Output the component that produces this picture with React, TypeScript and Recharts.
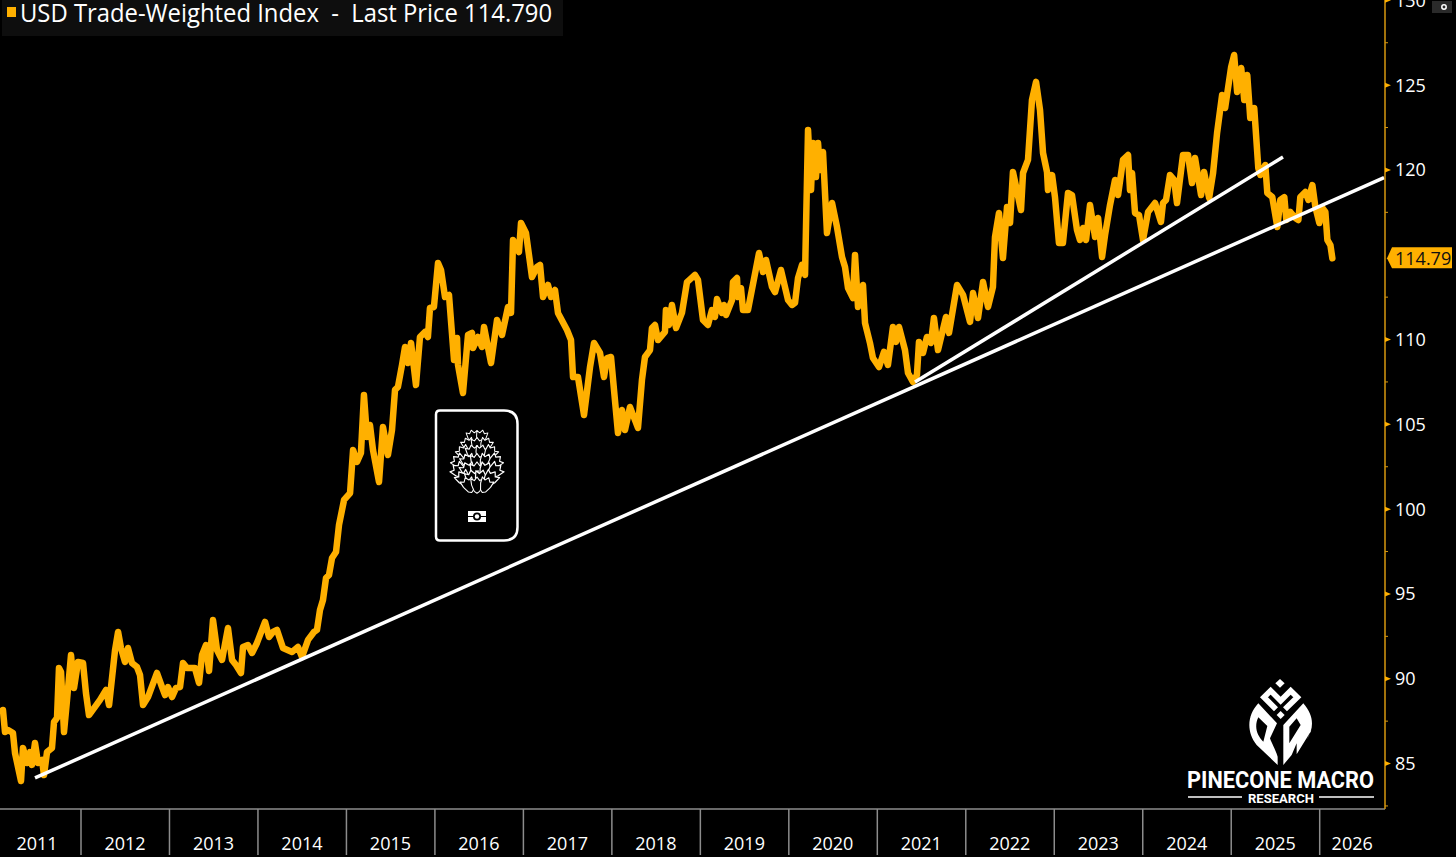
import { LineChart, Line, XAxis, YAxis, ReferenceLine } from 'recharts'

const ORANGE = '#ffb000'

// decimal years
const dates = [
  2011.118, 2011.141, 2011.175, 2011.231, 2011.254, 2011.288, 2011.322, 2011.344, 2011.390, 2011.424,
  2011.446, 2011.480, 2011.514, 2011.559, 2011.582, 2011.616, 2011.672, 2011.695, 2011.729, 2011.751,
  2011.774, 2011.808, 2011.842, 2011.887, 2011.921, 2011.966, 2012.023, 2012.056, 2012.090, 2012.158,
  2012.215, 2012.283, 2012.317, 2012.385, 2012.419, 2012.452, 2012.497, 2012.531, 2012.576, 2012.633,
  2012.667, 2012.701, 2012.757, 2012.859, 2012.916, 2012.950, 2012.983, 2013.029, 2013.074, 2013.119,
  2013.153, 2013.198, 2013.288, 2013.334, 2013.368, 2013.413, 2013.447, 2013.492, 2013.537, 2013.594,
  2013.661, 2013.707, 2013.752, 2013.808, 2013.831, 2013.887, 2013.933, 2013.989, 2014.080, 2014.125,
  2014.170, 2014.215, 2014.283, 2014.385, 2014.452, 2014.498, 2014.566, 2014.633, 2014.667, 2014.701,
  2014.735, 2014.769, 2014.803, 2014.837, 2014.882, 2014.916, 2014.973, 2015.041, 2015.075, 2015.119,
  2015.164, 2015.198, 2015.232, 2015.266, 2015.300, 2015.368, 2015.413, 2015.469, 2015.515, 2015.549,
  2015.582, 2015.628, 2015.662, 2015.696, 2015.730, 2015.786, 2015.831, 2015.887, 2015.921, 2015.944,
  2015.989, 2016.035, 2016.069, 2016.114, 2016.159, 2016.216, 2016.250, 2016.261, 2016.317, 2016.374,
  2016.419, 2016.430, 2016.487, 2016.532, 2016.555, 2016.634, 2016.702, 2016.758, 2016.826, 2016.860,
  2016.883, 2016.950, 2016.973, 2017.029, 2017.097, 2017.154, 2017.188, 2017.222, 2017.278, 2017.312,
  2017.357, 2017.391, 2017.493, 2017.538, 2017.561, 2017.617, 2017.685, 2017.753, 2017.798, 2017.866,
  2017.911, 2017.945, 2017.990, 2018.069, 2018.114, 2018.148, 2018.205, 2018.295, 2018.340, 2018.374,
  2018.431, 2018.453, 2018.487, 2018.521, 2018.600, 2018.611, 2018.645, 2018.679, 2018.725, 2018.792,
  2018.849, 2018.939, 2018.973, 2019.030, 2019.086, 2019.131, 2019.165, 2019.188, 2019.244, 2019.267,
  2019.290, 2019.358, 2019.369, 2019.414, 2019.425, 2019.459, 2019.482, 2019.538, 2019.663, 2019.708,
  2019.742, 2019.810, 2019.844, 2019.911, 2019.991, 2020.036, 2020.070, 2020.104, 2020.149, 2020.183,
  2020.217, 2020.251, 2020.273, 2020.307, 2020.330, 2020.352, 2020.386, 2020.431, 2020.488, 2020.544,
  2020.601, 2020.635, 2020.669, 2020.725, 2020.748, 2020.782, 2020.838, 2020.861, 2020.917, 2020.951,
  2021.019, 2021.075, 2021.120, 2021.177, 2021.211, 2021.245, 2021.313, 2021.347, 2021.403, 2021.448,
  2021.471, 2021.516, 2021.561, 2021.606, 2021.640, 2021.686, 2021.776, 2021.810, 2021.901, 2021.969,
  2022.048, 2022.082, 2022.138, 2022.195, 2022.251, 2022.307, 2022.330, 2022.375, 2022.420, 2022.466,
  2022.500, 2022.533, 2022.624, 2022.647, 2022.703, 2022.748, 2022.794, 2022.839, 2022.873, 2022.918,
  2022.929, 2022.975, 2023.008, 2023.053, 2023.098, 2023.155, 2023.200, 2023.257, 2023.291, 2023.325,
  2023.359, 2023.404, 2023.461, 2023.495, 2023.540, 2023.574, 2023.630, 2023.687, 2023.721, 2023.777,
  2023.834, 2023.856, 2023.879, 2023.913, 2023.958, 2024.003, 2024.060, 2024.139, 2024.206, 2024.229,
  2024.263, 2024.308, 2024.354, 2024.387, 2024.455, 2024.512, 2024.557, 2024.591, 2024.659, 2024.693,
  2024.750, 2024.795, 2024.840, 2024.897, 2024.931, 2024.999, 2025.033, 2025.067, 2025.113, 2025.147,
  2025.181, 2025.215, 2025.260, 2025.306, 2025.329, 2025.385, 2025.408, 2025.464, 2025.521, 2025.555,
  2025.600, 2025.623, 2025.668, 2025.725, 2025.759, 2025.781, 2025.838, 2025.872, 2025.917, 2025.951,
  2025.996, 2026.030, 2026.064, 2026.087, 2026.121, 2026.143,
]

const prices = [
  88.16, 86.86, 86.98, 86.80, 85.62, 84.80, 83.97, 85.92, 85.03, 85.68,
  84.92, 86.21, 85.03, 85.21, 84.32, 85.68, 85.92, 87.45, 87.69, 90.63,
  90.40, 86.86, 88.75, 91.40, 89.46, 90.99, 90.93, 89.16, 87.86, 88.34,
  88.75, 89.34, 88.45, 91.70, 92.76, 91.81, 90.99, 91.81, 90.93, 90.69,
  90.22, 88.45, 88.92, 90.34, 89.51, 89.04, 89.51, 88.92, 89.46, 89.51,
  90.93, 90.63, 90.63, 89.75, 91.40, 91.99, 90.46, 93.46, 91.70, 91.11,
  92.99, 91.11, 90.81, 90.34, 91.87, 91.99, 91.52, 92.11, 93.35, 92.46,
  92.76, 92.88, 91.81, 91.58, 91.87, 91.28, 92.29, 92.76, 92.88, 94.05,
  94.64, 95.94, 96.12, 97.12, 97.47, 99.07, 100.54, 100.95, 103.49, 102.78,
  103.31, 106.73, 104.25, 104.96, 103.49, 101.60, 104.84, 103.19, 104.67, 107.03,
  107.20, 108.50, 109.56, 108.62, 109.80, 107.32, 110.15, 110.45, 110.15, 111.86,
  111.92, 114.51, 114.10, 112.51, 112.63, 108.79, 110.09, 108.50, 106.85, 110.27,
  110.39, 109.50, 110.15, 109.56, 110.74, 108.62, 111.15, 110.27, 111.92, 111.57,
  115.87, 115.16, 116.87, 116.28, 113.69, 114.28, 114.40, 112.51, 113.22, 112.51,
  112.92, 111.57, 110.56, 109.97, 107.79, 107.79, 105.55, 108.38, 109.80, 109.21,
  107.79, 108.91, 108.97, 104.49, 105.85, 104.67, 106.02, 104.79, 107.62, 108.97,
  109.38, 110.68, 110.86, 109.97, 110.45, 111.74, 110.86, 112.04, 110.68, 111.57,
  113.39, 113.81, 113.51, 111.15, 110.86, 111.74, 111.33, 112.39, 111.57, 112.04,
  111.45, 112.33, 113.39, 113.63, 112.51, 113.04, 111.74, 111.74, 115.10, 113.98,
  114.69, 113.10, 112.80, 114.10, 112.33, 112.04, 112.16, 113.63, 114.40, 113.81,
  122.36, 118.82, 121.59, 119.58, 121.59, 120.00, 121.06, 116.28, 118.05, 116.64,
  114.87, 114.28, 113.04, 112.45, 114.99, 111.92, 113.22, 110.98, 109.80, 108.91,
  108.38, 109.27, 108.50, 110.74, 109.86, 110.74, 109.38, 108.03, 107.50, 107.91,
  109.86, 109.21, 110.15, 109.80, 111.27, 109.38, 111.33, 110.39, 113.22, 112.63,
  111.04, 112.74, 111.27, 113.39, 111.92, 113.10, 116.05, 117.46, 114.81, 117.82,
  116.87, 119.88, 117.64, 119.82, 120.59, 124.12, 125.19, 123.53, 121.00, 119.88,
  118.82, 119.70, 118.40, 115.69, 115.69, 118.64, 118.52, 116.46, 115.87, 116.58,
  115.87, 117.93, 116.05, 117.17, 114.87, 116.16, 117.93, 119.41, 118.52, 120.59,
  120.88, 118.82, 119.82, 117.46, 117.34, 115.87, 117.52, 118.05, 116.93, 118.05,
  118.23, 119.70, 119.41, 118.05, 120.88, 120.88, 119.23, 120.70, 118.52, 119.88,
  118.35, 119.82, 122.18, 124.42, 123.65, 126.07, 126.78, 124.60, 126.01, 124.12,
  125.60, 123.06, 123.65, 120.11, 119.70, 120.29, 118.64, 118.40, 116.64, 118.23,
  118.40, 117.05, 117.52, 117.17, 117.05, 118.40, 118.70, 118.23, 119.11, 117.82,
  116.87, 117.76, 117.52, 115.87, 115.57, 114.79,
]

const yearTicks = [2012, 2013, 2014, 2015, 2016, 2017, 2018, 2019, 2020, 2021, 2022, 2023, 2024, 2025, 2026]
// 115 is left out: the last price flag sits on top of it
const priceTicks = [82.5, 85, 87.5, 90, 92.5, 95, 97.5, 100, 102.5, 105, 107.5, 110, 112.5, 114.79, 117.5, 120, 122.5, 125, 127.5, 130]

const LAST_PRICE = 114.79

const longTrend = [{ x: 2011.48, y: 84.15 }, { x: 2026.727, y: 119.55 }]
const shortTrend = [{ x: 2021.426, y: 107.49 }, { x: 2025.585, y: 120.76 }]

const data = dates.map((d, i) => ({ date: d, price: prices[i] }))

const labelFont = '"Open Sans", sans-serif'

function YearTick({ x, y, payload }: any) {
  const year = payload.value
  return (
    <g>
      <line x1={x} x2={x} y1={y} y2={y + 46} stroke="#8c8c8c" strokeWidth={1.5} />
      <text x={year === 2026 ? x + 32.5 : x + 44} y={y + 41} textAnchor="middle" fill="#fff" fontSize={18} fontFamily={labelFont}>
        {year}
      </text>
      {year === 2012 && (
        <text x={x - 44} y={y + 41} textAnchor="middle" fill="#fff" fontSize={18} fontFamily={labelFont}>
          2011
        </text>
      )}
    </g>
  )
}

function PriceTick({ x, y, payload }: any) {
  const v = payload.value
  if (v === LAST_PRICE) {
    return (
      <g>
        <path d={`M${x + 2},${y} L${x + 7},${y - 11} H${x + 67} V${y + 10} H${x + 7} Z`} fill={ORANGE} />
        <text x={x + 10} y={y + 6.5} fill="#111" fontSize={18} fontFamily={labelFont}>114.79</text>
      </g>
    )
  }
  if (v % 5 !== 0) {
    return <line x1={x} x2={x + 3} y1={y} y2={y} stroke="#d9980f" strokeWidth={1} />
  }
  return (
    <g>
      <path d={`M${x},${y - 2.5} L${x + 6},${y} L${x},${y + 2.5} Z`} fill={ORANGE} />
      <text x={x + 10} y={y + 6.5} fill="#fff" fontSize={18} fontFamily={labelFont}>{v}</text>
    </g>
  )
}

// rows of scales for the cone in the middle of the chart
const coneRows = [
  { y: 438, n: 2, s: 0.8 }, { y: 446, n: 3, s: 0.85 }, { y: 454, n: 4, s: 0.9 }, { y: 463, n: 5, s: 0.95 },
  { y: 472, n: 5, s: 1 }, { y: 480, n: 4, s: 1 }, { y: 486, n: 3, s: 0.9 },
]

function Watermark() {
  return (
    <g>
      <path d="M440,410.5 H504 Q517.5,410.5 517.5,424 V527 Q517.5,540.5 504,540.5 H440 Q436,540.5 436,536.5 V414.5 Q436,410.5 440,410.5 Z" fill="#000" stroke="#fff" strokeWidth={2.5} />
      {coneRows.map((r) =>
        Array.from({ length: r.n }).map((_, i) => {
          const off = i - (r.n - 1) / 2
          return (
            <path
              key={`${r.y}-${i}`}
              transform={`translate(${477 + off * 8.2},${r.y}) rotate(${off * 24}) scale(${r.s})`}
              d="M0,-10 L3,-6 L7,-8 L6,-1 L3,6 L0,8 L-3,6 L-6,-1 L-7,-8 L-3,-6 Z"
              fill="#000"
              stroke="#fff"
              strokeWidth={1.2}
              strokeLinejoin="round"
            />
          )
        })
      )}
      <rect x={468} y={511} width={18} height={11} fill="#fff" />
      <line x1={468} x2={486} y1={516.5} y2={516.5} stroke="#000" strokeWidth={1} />
      <circle cx={477} cy={516.5} r={4} fill="#000" />
      <circle cx={477} cy={516.5} r={2.2} fill="#fff" />
    </g>
  )
}

function Logo() {
  return (
    <g>
      <g transform="translate(1150,660) scale(0.3333)" fill="#fff">
        <path d="M390,57 L404,70 L390,83 L376,70 Z" />
        <path d="M378,148 L342,112 L362,92 L392,122 L422,92 L442,112 L405,148" fill="none" stroke="#fff" strokeWidth={17} />
        <path d="M392,153 L404,165 L392,177 L380,165 Z" />
        <path fillRule="evenodd" d="M325,130 C292,165 288,215 320,255 L383,315 L383,290 C375,265 365,250 360,235 L381,190 L325,130 Z M325,172 L352,198 L340,245 C320,225 312,200 325,172 Z" />
        <path fillRule="evenodd" d="M400,315 L400,195 L460,130 C490,165 495,200 470,240 L485,210 L440,283 L440,250 L425,285 L400,315 Z M418,200 L418,250 L452,195 L440,175 Z" />
      </g>
      <text x={1187} y={788} textLength={187} lengthAdjust="spacingAndGlyphs" fill="#fff" fontSize={24} fontWeight={700} fontFamily="Roboto, sans-serif">
        PINECONE MACRO
      </text>
      <text x={1248} y={803} textLength={66} lengthAdjust="spacingAndGlyphs" fill="#fff" fontSize={12} fontWeight={700} fontFamily="Roboto, sans-serif">
        RESEARCH
      </text>
      <line x1={1188} x2={1242} y1={797} y2={797} stroke="#fff" strokeWidth={1.5} />
      <line x1={1319} x2={1374} y1={797} y2={797} stroke="#fff" strokeWidth={1.5} />
    </g>
  )
}

export default function App() {
  return (
    <div style={{ position: 'absolute', left: 0, top: 0, width: 1456, height: 857, background: '#000', overflow: 'hidden' }}>
      <LineChart width={1456} height={857} data={data} margin={{ top: 0, right: 0, bottom: 0, left: 0 }}>
        <XAxis
          type="number"
          dataKey="date"
          domain={[2011.0845, 2026.738]}
          ticks={yearTicks}
          interval={0}
          height={48}
          tickSize={0}
          tickMargin={0}
          tick={<YearTick />}
          axisLine={{ stroke: '#8c8c8c', strokeWidth: 1.5 }}
          tickLine={false}
        />
        <YAxis
          orientation="right"
          domain={[82.32, 130.02]}
          ticks={priceTicks}
          interval={0}
          width={71}
          tickSize={0}
          tickMargin={0}
          tick={<PriceTick />}
          axisLine={{ stroke: '#d9980f', strokeWidth: 1.5 }}
          tickLine={false}
        />
        <Line
          dataKey="price"
          type="linear"
          stroke={ORANGE}
          strokeWidth={6.5}
          strokeLinejoin="round"
          strokeLinecap="round"
          dot={false}
          activeDot={false}
          isAnimationActive={false}
        />
        <ReferenceLine segment={longTrend} stroke="#fff" strokeWidth={3.5} ifOverflow="extendDomain" />
        <ReferenceLine segment={shortTrend} stroke="#fff" strokeWidth={3.5} ifOverflow="extendDomain" />
      </LineChart>
      <svg width={1456} height={857} style={{ position: 'absolute', left: 0, top: 0, pointerEvents: 'none' }}>
        <rect x={2} y={0} width={561} height={36} fill="#0e0e0e" />
        <rect x={7} y={7} width={9} height={10} fill={ORANGE} />
        <text x={20} y={22} textLength={532} lengthAdjust="spacingAndGlyphs" fill="#fff" fontSize={25} fontFamily={labelFont} style={{ whiteSpace: 'pre' }}>
          {'USD Trade-Weighted Index  -  Last Price 114.790'}
        </text>
        <rect x={1432} y={1} width={20} height={12} fill="#2a2a2a" />
        <circle cx={1444} cy={7} r={2.2} fill="none" stroke="#fff" strokeWidth={1.5} />
        <Watermark />
        <Logo />
      </svg>
    </div>
  )
}
